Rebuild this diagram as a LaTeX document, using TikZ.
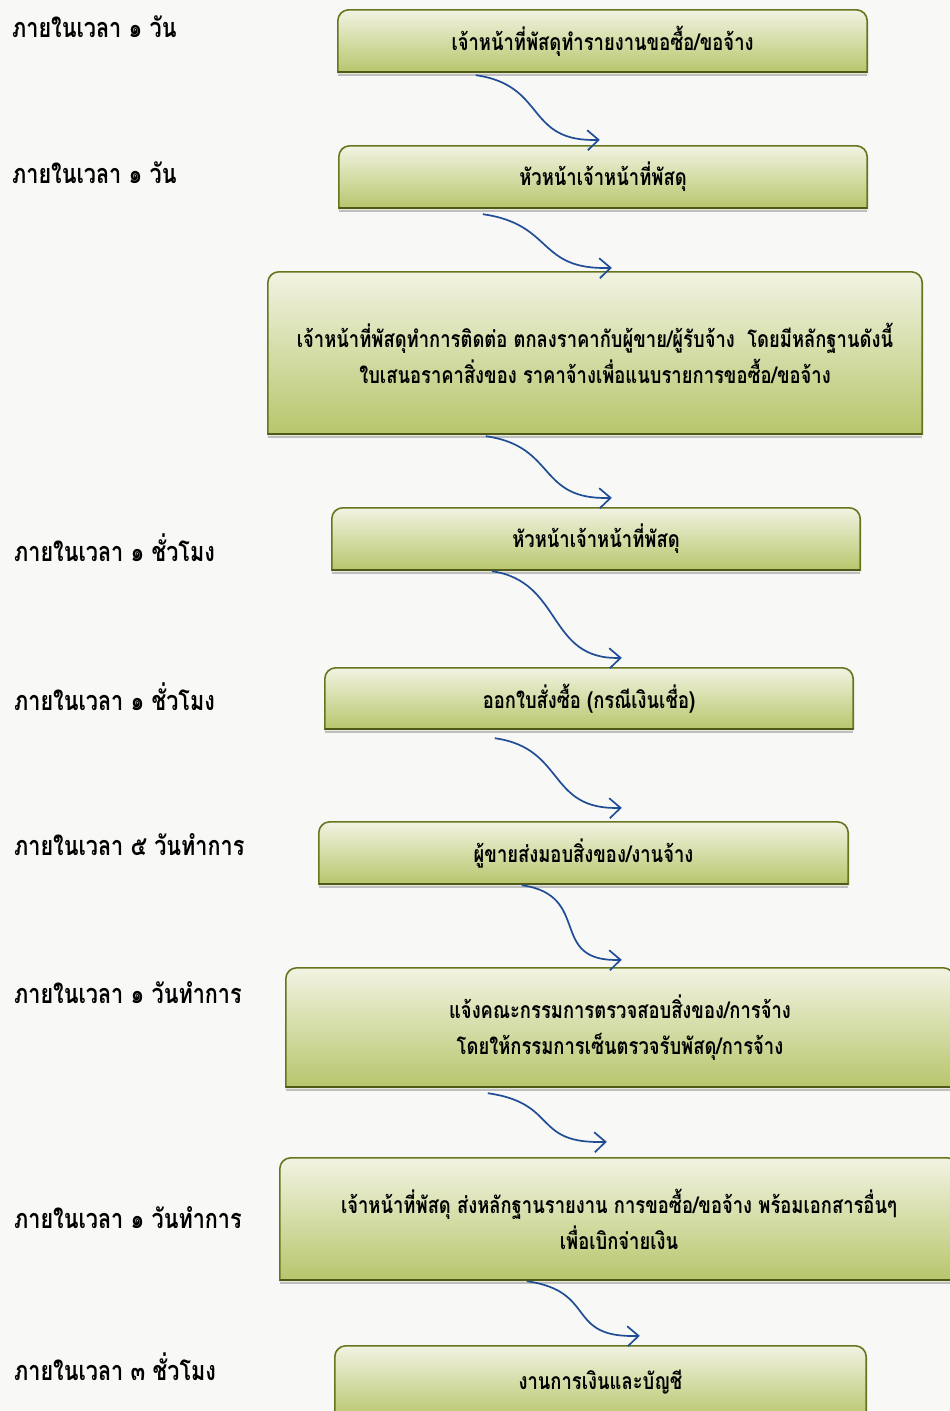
\documentclass[tikz,border=0pt]{standalone}
\usepackage{fontspec}
\newfontfamily\thai[Script=Thai,FakeStretch=0.8]{Loma}
\usetikzlibrary{arrows.meta,calc,backgrounds}
\definecolor{boxedge}{HTML}{66761F}
\definecolor{boxedgedark}{HTML}{4F5A18}
\definecolor{boxtop}{HTML}{F2F3E2}
\definecolor{boxbot}{HTML}{B7C66C}
\definecolor{arrowblue}{HTML}{1F4D96}
\definecolor{paper}{HTML}{F8F8F6}
\tikzset{
  stepbox/.style={inner sep=0pt, align=center, font=\thai\bfseries\fontsize{23}{36}\selectfont, text=black},
  timelabel/.style={anchor=west, inner sep=0pt, font=\thai\bfseries\fontsize{27}{30}\selectfont},
  flowarrow/.style={draw=arrowblue, line width=1.7pt, -{Straight Barb[length=11pt,width=20pt]}},
  boxshape/.style={draw=boxedge, line width=1.6pt, top color=boxtop, bottom color=boxbot},
  boxbase/.style={draw=boxedgedark, line width=2.4pt},
  boxshadow/.style={draw=black!25, line width=2pt},
  curvy/.style={to path={.. controls +(-8:72) and +(182:75) .. (\tikztotarget)}},
}
\newcommand\topround[1]{%
  \path[boxshadow] ([yshift=-2.5pt]#1.south west) -- ([yshift=-2.5pt]#1.south east);
  \path[boxshape] (#1.south west) -- ([yshift=-11pt]#1.north west) arc[start angle=180,end angle=90,radius=11pt] -- ([xshift=-11pt]#1.north east) arc[start angle=90,end angle=0,radius=11pt] -- (#1.south east) -- cycle;
  \path[boxbase] (#1.south west) -- (#1.south east);}
\begin{document}
\begin{tikzpicture}[x=1pt,y=1pt]
\useasboundingbox (0,0) rectangle (950,-1411);
% boxes
\node[stepbox, minimum width=529, minimum height=62] (b1) at (602.5,-41) {เจ้าหน้าที่พัสดุทำรายงานขอซื้อ/ขอจ้าง};
\node[stepbox, minimum width=528, minimum height=62] (b2) at (603,-177) {หัวหน้าเจ้าหน้าที่พัสดุ};
\node[stepbox, minimum width=654, minimum height=162] (b3) at (595,-353) {เจ้าหน้าที่พัสดุทำการติดต่อ ตกลงราคากับผู้ขาย/ผู้รับจ้าง \ โดยมีหลักฐานดังนี้\\ใบเสนอราคาสิ่งของ ราคาจ้างเพื่อแนบรายการขอซื้อ/ขอจ้าง};
\node[stepbox, minimum width=528, minimum height=62] (b4) at (596,-539) {หัวหน้าเจ้าหน้าที่พัสดุ};
\node[stepbox, minimum width=528, minimum height=61] (b5) at (589,-698.5) {ออกใบสั่งซื้อ (กรณีเงินเชื่อ)};
\node[stepbox, minimum width=529, minimum height=62] (b6) at (583.5,-853) {ผู้ขายส่งมอบสิ่งของ/งานจ้าง};
\node[stepbox, minimum width=668, minimum height=119] (b7) at (620,-1027.5) {แจ้งคณะกรรมการตรวจสอบสิ่งของ/การจ้าง\\โดยให้กรรมการเซ็นตรวจรับพัสดุ/การจ้าง};
\node[stepbox, minimum width=678, minimum height=122] (b8) at (619,-1219) {เจ้าหน้าที่พัสดุ ส่งหลักฐานรายงาน การขอซื้อ/ขอจ้าง พร้อมเอกสารอื่นๆ\\เพื่อเบิกจ่ายเงิน};
\node[stepbox, minimum width=531, minimum height=72] (b9) at (600.5,-1382) {งานการเงินและบัญชี};
\begin{scope}[on background layer]
\fill[paper] (0,0) rectangle (950,-1411);
\foreach \b in {b1,b2,b3,b4,b5,b6,b7,b8,b9} {\topround{\b}}
\end{scope}
% time labels
\node[timelabel] (t1) at (12,-27) {ภายในเวลา ๑ วัน};
\node[timelabel] (t2) at (12,-173) {ภายในเวลา ๑ วัน};
\node[timelabel] (t4) at (14,-548) {ภายในเวลา ๑ ชั่วโมง};
\node[timelabel] (t5) at (14,-697) {ภายในเวลา ๑ ชั่วโมง};
\node[timelabel] (t6) at (14,-845) {ภายในเวลา ๕ วันทำการ};
\node[timelabel] (t7) at (14,-993) {ภายในเวลา ๑ วันทำการ};
\node[timelabel] (t8) at (14,-1218) {ภายในเวลา ๑ วันทำการ};
\node[timelabel] (t9) at (14,-1367) {ภายในเวลา ๓ ชั่วโมง};
% arrows
\draw[flowarrow] ($(b1.south west)+(138,-3)$) to[curvy] ($(b2.north west)+(261,6)$);
\draw[flowarrow] ($(b2.south west)+(144,-6)$) to[curvy] ($(b3.north west)+(344,4)$);
\draw[flowarrow] ($(b3.south west)+(218,-2)$) to[curvy] ($(b4.north west)+(280,10)$);
\draw[flowarrow] ($(b4.south west)+(160,-1)$) to[curvy] ($(b5.north west)+(297,10)$);
\draw[flowarrow] ($(b5.south west)+(170,-9)$) to[curvy] ($(b6.north west)+(303,14)$);
\draw[flowarrow] ($(b6.south west)+(203,-1)$) to[curvy] ($(b7.north west)+(336,8)$);
\draw[flowarrow] ($(b7.south west)+(202,-6)$) to[curvy] ($(b8.north west)+(327,16)$);
\draw[flowarrow] ($(b8.south west)+(247,-1)$) to[curvy] ($(b9.north west)+(305,10)$);
\end{tikzpicture}
\end{document}
